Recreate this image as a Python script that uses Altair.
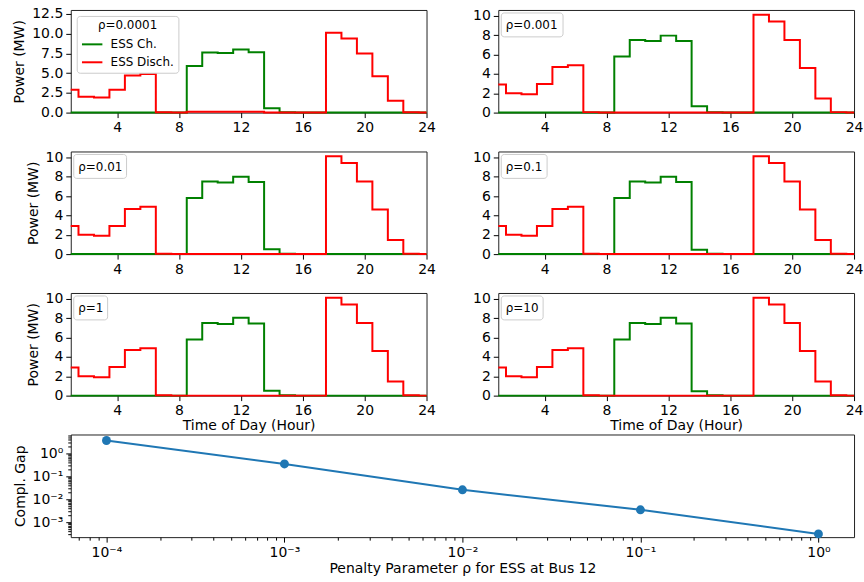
import altair as alt
import pandas as pd

# ---------------- data ----------------
hours = list(range(1, 25))
series_names = ["ESS Ch.", "ESS Disch."]
rho_labels = ["ρ=0.0001", "ρ=0.001", "ρ=0.01", "ρ=0.1", "ρ=1", "ρ=10"]

ch_p1 = [0, 0, 0, 0, 0, 0, 0, 0, 5.9, 7.6, 7.55, 8.0, 7.65, 0.55, 0.05, 0, 0, 0, 0, 0, 0, 0, 0, 0]
dis_p1 = [2.9, 2.0, 1.9, 2.9, 4.7, 4.9, 0.05, 0, 0.12, 0.1, 0.12, 0.12, 0.12, 0, 0, 0, 0, 10.1, 9.4, 7.5, 4.6, 1.5, 0.05, 0]

ch_p2 = [0, 0, 0, 0, 0, 0, 0, 0, 5.8, 7.5, 7.4, 7.95, 7.4, 0.65, 0.05, 0, 0, 0, 0, 0, 0, 0, 0, 0]
dis_p2 = [2.9, 2.0, 1.9, 2.95, 4.7, 4.9, 0.05, 0, 0, 0, 0, 0, 0, 0, 0, 0, 0, 10.1, 9.4, 7.5, 4.6, 1.45, 0.05, 0]

ch_p3 = [0, 0, 0, 0, 0, 0, 0, 0, 5.8, 7.5, 7.4, 8.0, 7.45, 0.5, 0.05, 0, 0, 0, 0, 0, 0, 0, 0, 0]
dis_p3 = [2.9, 2.0, 1.9, 2.9, 4.65, 4.9, 0.05, 0, 0, 0, 0, 0, 0, 0, 0, 0, 0, 10.1, 9.4, 7.5, 4.6, 1.45, 0.05, 0]

ch_p4 = [0, 0, 0, 0, 0, 0, 0, 0, 5.8, 7.5, 7.4, 8.0, 7.45, 0.45, 0.05, 0, 0, 0, 0, 0, 0, 0, 0, 0]
dis_p4 = [2.9, 2.0, 1.9, 2.9, 4.65, 4.9, 0.05, 0, 0, 0, 0, 0, 0, 0, 0, 0, 0, 10.1, 9.4, 7.5, 4.6, 1.45, 0.05, 0]

ch_p5 = [0, 0, 0, 0, 0, 0, 0, 0, 5.8, 7.5, 7.4, 8.05, 7.45, 0.5, 0.05, 0, 0, 0, 0, 0, 0, 0, 0, 0]
dis_p5 = [2.9, 2.0, 1.9, 2.95, 4.7, 4.9, 0.05, 0, 0, 0, 0, 0, 0, 0, 0, 0, 0, 10.1, 9.4, 7.5, 4.6, 1.45, 0.05, 0]

ch_p6 = [0, 0, 0, 0, 0, 0, 0, 0, 5.8, 7.5, 7.4, 8.05, 7.45, 0.45, 0.05, 0, 0, 0, 0, 0, 0, 0, 0, 0]
dis_p6 = [2.9, 2.0, 1.9, 2.95, 4.7, 4.9, 0.05, 0, 0, 0, 0, 0, 0, 0, 0, 0, 0, 10.1, 9.4, 7.5, 4.6, 1.45, 0.05, 0]

ch_all = [ch_p1, ch_p2, ch_p3, ch_p4, ch_p5, ch_p6]
dis_all = [dis_p1, dis_p2, dis_p3, dis_p4, dis_p5, dis_p6]

rho_values = [1e-4, 1e-3, 1e-2, 1e-1, 1.0]
compl_gap = [3.7, 0.35, 0.026, 0.0035, 0.00031]

x_ticks = [4, 8, 12, 16, 20, 24]

# ---------------- styling ----------------
FONT = "DejaVu Sans"
PW, PH = 357, 103
GREEN, RED, BLUE = "#008000", "#ff0000", "#1f77b4"
# approx text widths (px) of rho labels at 12px for the boxes
box_w = {"ρ=0.001": 62, "ρ=0.01": 53, "ρ=0.1": 46, "ρ=1": 34, "ρ=10": 42}


def panel(i, show_ytitle, show_xtitle):
    ch, dis = ch_all[i], dis_all[i]
    df = pd.DataFrame({
        "hour": hours + hours,
        "power": ch + dis,
        "series": [series_names[0]] * 24 + [series_names[1]] * 24,
    })
    if i == 0:
        ydom, yvals, yfmt = [0, 13], [0, 2.5, 5, 7.5, 10, 12.5], ".1f"
    else:
        ydom, yvals, yfmt = [0, 10.6], [0, 2, 4, 6, 8, 10], "d"

    xaxis = alt.Axis(values=x_ticks, format="d", labelFlush=False,
                     title="Time of Day (Hour)" if show_xtitle else None,
                     titlePadding=1)
    yaxis = alt.Axis(values=yvals, format=yfmt,
                     title="Power (MW)" if show_ytitle else None,
                     titlePadding=5)
    if i == 0:
        legend = alt.Legend(
            title=rho_labels[0], orient="top-left", offset=6,
            fillColor="rgba(255,255,255,0.8)", strokeColor="#cccccc",
            cornerRadius=3, padding=4, symbolType="stroke", symbolSize=420,
            symbolStrokeWidth=2, titleAnchor="middle", labelFontSize=12,
            titleFontSize=12, titleFontWeight="normal", rowPadding=-5,
            titlePadding=1, labelOffset=7, labelColor="black",
            titleColor="black", labelFont=FONT, titleFont=FONT)
    else:
        legend = None

    lines = alt.Chart(df).mark_line(interpolate="step", strokeWidth=2).encode(
        x=alt.X("hour:Q", scale=alt.Scale(domain=[1, 24], nice=False, zero=False), axis=xaxis),
        y=alt.Y("power:Q", scale=alt.Scale(domain=ydom, nice=False), axis=yaxis),
        color=alt.Color("series:N",
                        scale=alt.Scale(domain=series_names, range=[GREEN, RED]),
                        legend=legend),
    )
    if i == 0:
        return lines.properties(width=PW, height=PH)

    lab = rho_labels[i]
    ann = pd.DataFrame({"label": [lab]})
    w = box_w[lab]
    box = alt.Chart(ann).mark_rect(
        fill="white", fillOpacity=0.8, stroke="#cccccc", strokeWidth=1,
        cornerRadius=3
    ).encode(x=alt.value(3), x2=alt.value(3 + w), y=alt.value(3), y2=alt.value(27))
    txt = alt.Chart(ann).mark_text(
        align="left", baseline="middle", fontSize=12, font=FONT, color="black"
    ).encode(x=alt.value(7.5), y=alt.value(15.5), text="label:N")
    return alt.layer(lines, box, txt).properties(width=PW, height=PH)


panels = [panel(0, True, False), panel(1, False, False),
          panel(2, True, False), panel(3, False, False),
          panel(4, True, True), panel(5, False, True)]

grid = alt.concat(*panels, columns=2, spacing={"row": 39, "column": 72}, bounds="flush")

# ---------------- bottom chart ----------------
bdf = pd.DataFrame({"rho": rho_values, "gap": compl_gap})
xs = alt.Scale(type="log", domain=[6.3e-5, 1.585], nice=False)
ys = alt.Scale(type="log", domain=[2.24e-4, 6.76], nice=False)

sup_expr = ("datum.value >= 0.5 ? '10⁰' : datum.value >= 0.05 ? '10⁻¹' : "
            "datum.value >= 0.005 ? '10⁻²' : datum.value >= 0.0005 ? '10⁻³' : '10⁻⁴'")

x_minor = [k * 1e-5 for k in (7, 8, 9)] + [k * 10.0 ** e for e in (-4, -3, -2, -1) for k in range(2, 10)]
y_minor = [k * 1e-4 for k in range(3, 10)] + [k * 10.0 ** e for e in (-3, -2, -1) for k in range(2, 10)] + [2, 3, 4, 5, 6]

main = alt.Chart(bdf).mark_line(
    color=BLUE, strokeWidth=2,
    point=alt.OverlayMarkDef(filled=True, size=80, color=BLUE, opacity=1)
).encode(
    x=alt.X("rho:Q", scale=xs,
            axis=alt.Axis(values=rho_values, labelExpr=sup_expr, orient="bottom",
                          title="Penalty Parameter ρ for ESS at Bus 12", titlePadding=2,
                          labelFlush=False)),
    y=alt.Y("gap:Q", scale=ys,
            axis=alt.Axis(values=[1e-3, 1e-2, 1e-1, 1.0], labelExpr=sup_expr, orient="left",
                          title="Compl. Gap", titlePadding=5)),
)
minor = alt.Chart(bdf).mark_point(opacity=0).encode(
    x=alt.X("rho:Q", scale=xs,
            axis=alt.Axis(values=x_minor, labels=False, tickSize=3, orient="bottom", title=None)),
    y=alt.Y("gap:Q", scale=ys,
            axis=alt.Axis(values=y_minor, labels=False, tickSize=3, orient="left", title=None)),
)
bottom = alt.layer(main, minor).resolve_axis(x="independent", y="independent").properties(
    width=2 * PW + 72, height=PH)

chart = alt.vconcat(grid, bottom, spacing=0).properties(
    padding={"left": 12, "top": 5, "right": 0, "bottom": 0}
).configure(
    font=FONT
).configure_view(
    stroke="#222222", strokeWidth=1
).configure_axis(
    domain=False, grid=False, tickColor="black", tickSize=5, tickWidth=1,
    labelColor="black", labelFontSize=14, labelFont=FONT, labelPadding=3,
    titleColor="black", titleFontSize=14, titleFont=FONT, titleFontWeight="normal",
    labelOverlap=False,
)

chart.save("out.html", embed_options={"renderer": "svg", "actions": False})
